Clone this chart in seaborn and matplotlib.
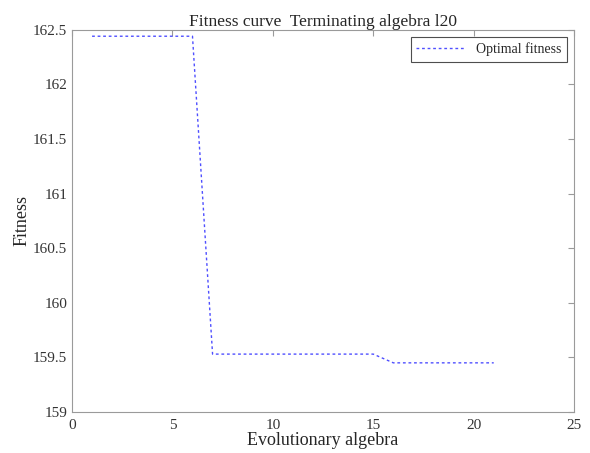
import matplotlib
matplotlib.use("Agg")
import matplotlib.pyplot as plt
import seaborn as sns
import pandas as pd

# evolutionary generation and best fitness found so far
generations = list(range(1, 22))
best_fitness = [162.44] * 6 + [159.53] * 9 + [159.45] * 6

sns.set_style("white")
plt.rcParams['font.family'] = ['Liberation Serif', 'DejaVu Serif']

df = pd.DataFrame({'gen': generations, 'fitness': best_fitness})

fig = plt.figure(figsize=(5.9, 4.53), dpi=100)
ax = fig.add_axes([0.122, 0.0905, 0.851, 0.844])

sns.lineplot(data=df, x='gen', y='fitness', ax=ax, color='#3030ff',
             linestyle=(0, (2, 2)), linewidth=1.0, alpha=0.85,
             label='Optimal fitness')

ax.set_xlim(0, 25)
ax.set_ylim(159, 162.5)
ax.set_xticks([0, 5, 10, 15, 20, 25])
ax.set_yticks([159, 159.5, 160, 160.5, 161, 161.5, 162, 162.5])
ax.set_yticklabels(['159', '159.5', '160', '160.5', '161', '161.5', '162', '162.5'])

for s in ax.spines.values():
    s.set_color('#9a9a9a')
    s.set_linewidth(0.8)
ax.tick_params(direction='in', length=4, color='#9a9a9a', labelsize=11,
               labelcolor='#333333', top=True, right=True)
ax.tick_params(axis='x', pad=5)

ax.set_xlabel('Evolutionary algebra', fontsize=13, labelpad=0)
ax.set_ylabel('Fitness', fontsize=13, labelpad=2)
ax.set_title('Fitness curve  Terminating algebra l20', fontsize=12.5, pad=3)

leg = ax.legend(loc='upper right', fontsize=10, frameon=True, fancybox=False,
                handlelength=3.5, borderpad=0.4)
leg.get_frame().set_edgecolor('#222222')
leg.get_frame().set_linewidth(0.8)

fig.savefig('out.png', dpi=100)
